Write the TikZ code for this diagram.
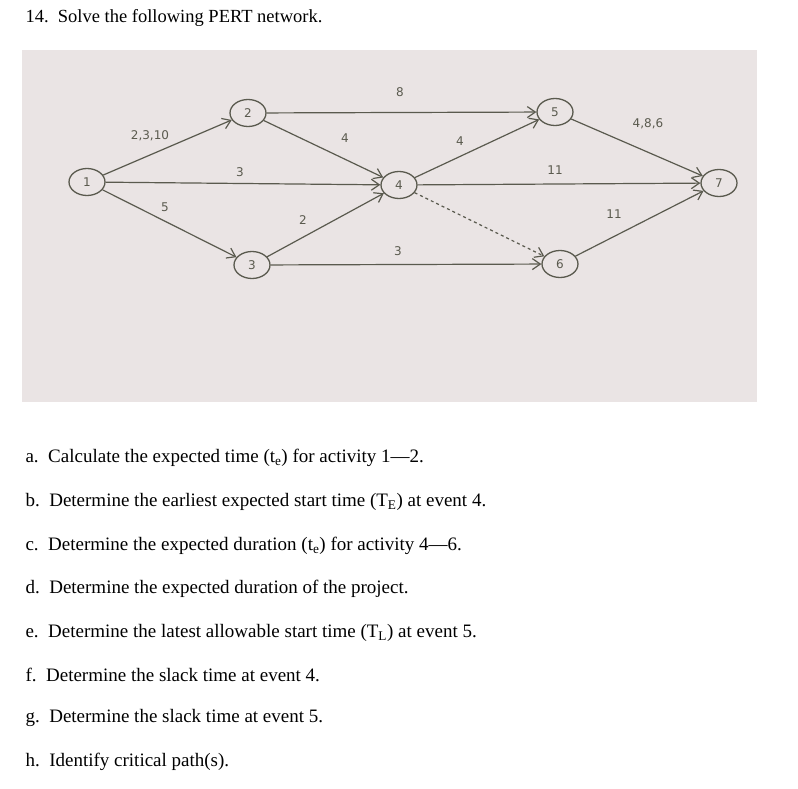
\documentclass[tikz,border=0pt]{standalone}
\usepackage{fontspec}
\setmainfont{Liberation Serif}
\newfontfamily\hand{DejaVu Sans}
\usetikzlibrary{arrows.meta,shapes.geometric}
\definecolor{photo}{RGB}{234,228,228}
\definecolor{pencil}{RGB}{90,90,78}
\begin{document}
\begin{tikzpicture}[x=1pt,y=-1pt,
  ev/.style={draw=pencil,line width=1.3pt,ellipse,minimum width=36pt,minimum height=27pt,inner sep=0pt,font=\hand\fontsize{12}{14}\selectfont,text=pencil},
  act/.style={draw=pencil,line width=1.2pt,-{Straight Barb[length=8pt,width=11pt]}},
  lab/.style={font=\hand\fontsize{12}{14}\selectfont,text=pencil},
  q/.style={anchor=west,font=\fontsize{19}{22}\selectfont}]
\useasboundingbox (0,0) rectangle (798,789);
\fill[white] (0,0) rectangle (798,789);
\fill[photo] (22,50) rectangle (757,402);
\node[ev] (n1) at (87,182) {1};
\node[ev] (n2) at (248,113) {2};
\node[ev] (n3) at (252,265) {3};
\node[ev] (n4) at (399,185) {4};
\node[ev] (n5) at (555,112) {5};
\node[ev] (n6) at (560,264) {6};
\node[ev] (n7) at (719,183) {7};
\draw[act] (n1) -- (n2);
\draw[act] (n1) -- (n4);
\draw[act] (n1) -- (n3);
\draw[act] (n2) -- (n5);
\draw[act] (n2) -- (n4);
\draw[act] (n3) -- (n4);
\draw[act] (n3) -- (n6);
\draw[act] (n4) -- (n5);
\draw[act] (n4) -- (n7);
\draw[act,dashed] (n4) -- (n6);
\draw[act] (n5) -- (n7);
\draw[act] (n6) -- (n7);
\node[lab] (l12) at (150,136) {2,3,10};
\node[lab] (l25) at (400,92) {8};
\node[lab] (l24) at (345,138) {4};
\node[lab] (l14) at (240,172) {3};
\node[lab] (l13) at (165,207) {5};
\node[lab] (l34) at (303,220) {2};
\node[lab] (l36) at (398,251) {3};
\node[lab] (l45) at (460,141) {4};
\node[lab] (l47) at (555,170) {11};
\node[lab] (l67) at (614,214) {11};
\node[lab] (l57) at (648,124) {4,8,6};
\node[q,font=\fontsize{18.5}{22}\selectfont] (t) at (22,18) {14.\ \ Solve the following PERT network.};
\node[q] (qa) at (22,458) {a.\ \ Calculate the expected time (t\textsubscript{e}) for activity 1—2.};
\node[q] (qb) at (22,502) {b.\ \ Determine the earliest expected start time (T\textsubscript{E}) at event 4.};
\node[q] (qc) at (22,546) {c.\ \ Determine the expected duration (t\textsubscript{e}) for activity 4—6.};
\node[q] (qd) at (22,589) {d.\ \ Determine the expected duration of the project.};
\node[q] (qe) at (22,633) {e.\ \ Determine the latest allowable start time (T\textsubscript{L}) at event 5.};
\node[q] (qf) at (22,675) {f.\ \ Determine the slack time at event 4.};
\node[q] (qg) at (22,718) {g.\ \ Determine the slack time at event 5.};
\node[q] (qh) at (22,762) {h.\ \ Identify critical path(s).};
\end{tikzpicture}
\end{document}
